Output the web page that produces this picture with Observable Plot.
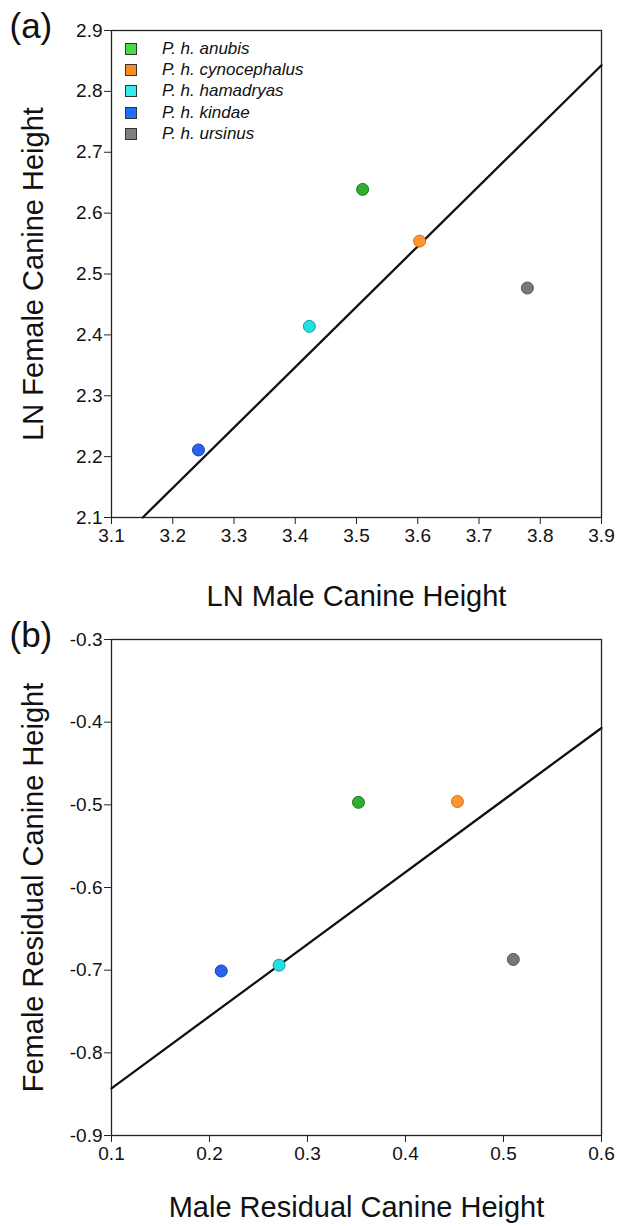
<!DOCTYPE html>
<html><head><meta charset="utf-8">
<script src="https://cdn.jsdelivr.net/npm/d3@7"></script>
<script src="https://cdn.jsdelivr.net/npm/@observablehq/plot@0.6"></script>
<style>
body{margin:0;background:#fff;font-family:"Liberation Sans",Arial,sans-serif;}
#wrap{position:relative;width:624px;height:1226px;overflow:hidden;}
#wrap svg{display:block;}
.legend{position:absolute;left:125px;top:38px;font-style:italic;font-size:17px;color:#111;}
.legend .row{display:flex;align-items:center;height:21.3px;}
.legend .sw{width:12px;height:12px;border:1px solid #333;margin-right:25px;box-sizing:border-box;}
</style></head><body><div id="wrap"></div>
<script>
const species = ["P. h. anubis","P. h. cynocephalus","P. h. hamadryas","P. h. kindae","P. h. ursinus"];
const legendColors = ["#44dd44","#ff8a1c","#33eeee","#1f6fff","#808080"];
const dotFills = ["#2fae2f","#ff9433","#22e0e0","#2a62f0","#777777"];
const dotStrokes = ["#1d7a1d","#d9700f","#14a0a0","#1a40b0","#555555"];

// Panel (a)
const lnMale = [3.510, 3.603, 3.423, 3.242, 3.779];
const lnFemale = [2.639, 2.554, 2.414, 2.211, 2.477];
const lnFitX = [3.151, 3.9];
const lnFitY = [2.1, 2.843];
const lnXTicks = [3.1, 3.2, 3.3, 3.4, 3.5, 3.6, 3.7, 3.8, 3.9];
const lnYTicks = [2.1, 2.2, 2.3, 2.4, 2.5, 2.6, 2.7, 2.8, 2.9];

// Panel (b)
const resMale = [0.352, 0.453, 0.271, 0.212, 0.510];
const resFemale = [-0.497, -0.496, -0.694, -0.701, -0.687];
const resFitX = [0.1, 0.6];
const resFitY = [-0.843, -0.407];
const resXTicks = [0.1, 0.2, 0.3, 0.4, 0.5, 0.6];
const resYTicks = [-0.9, -0.8, -0.7, -0.6, -0.5, -0.4, -0.3];

function panel(o) {
  const pts = species.map((s, i) => ({s, x: o.x[i], y: o.y[i], fill: dotFills[i], stroke: dotStrokes[i]}));
  const fit = o.fitX.map((x, i) => ({x, y: o.fitY[i]}));
  const fmt = d => d.toFixed(1);
  return Plot.plot({
    width: 624, height: o.height,
    marginLeft: 111, marginRight: 23, marginTop: o.marginTop, marginBottom: o.marginBottom,
    x: {domain: [o.xTicks[0], o.xTicks[o.xTicks.length - 1]]},
    y: {domain: [o.yTicks[0], o.yTicks[o.yTicks.length - 1]]},
    color: {type: "identity"},
    style: {fontFamily: "'Liberation Sans', Arial, sans-serif", fontSize: "19px", color: "#111", background: "#fff"},
    marks: [
      Plot.axisX({ticks: o.xTicks, tickFormat: fmt, tickSize: 7, tickPadding: 4, fontSize: 19, label: null, stroke: "#222"}),
      Plot.axisY({ticks: o.yTicks, tickFormat: fmt, tickSize: 7, tickPadding: 2, fontSize: 19, label: null, stroke: "#222"}),
      Plot.frame({stroke: "#222", strokeWidth: 1.3}),
      Plot.line(fit, {x: "x", y: "y", stroke: "#111", strokeWidth: 2.3}),
      Plot.dot(pts, {x: "x", y: "y", r: 6, fill: "fill", stroke: "stroke", strokeWidth: 1}),
      Plot.text([o.xLabel], {frameAnchor: "bottom", dy: o.xLabelDy, lineAnchor: "middle", fontSize: 29, fill: "#111"}),
      Plot.text([o.yLabel], {frameAnchor: "left", dx: -78, rotate: -90, lineAnchor: "middle", textAnchor: "middle", fontSize: 29, fill: "#111"}),
      Plot.text([o.tag], {frameAnchor: "top-left", dx: -102, dy: -4, textAnchor: "start", lineAnchor: "middle", fontSize: 35, fill: "#111"})
    ]
  });
}

const wrap = document.getElementById("wrap");
wrap.appendChild(panel({
  x: lnMale, y: lnFemale, fitX: lnFitX, fitY: lnFitY, xTicks: lnXTicks, yTicks: lnYTicks,
  xLabel: "LN Male Canine Height", yLabel: "LN Female Canine Height", tag: "(a)",
  height: 613, marginTop: 30, marginBottom: 96, xLabelDy: 79
}));
wrap.appendChild(panel({
  x: resMale, y: resFemale, fitX: resFitX, fitY: resFitY, xTicks: resXTicks, yTicks: resYTicks,
  xLabel: "Male Residual Canine Height", yLabel: "Female Residual Canine Height", tag: "(b)",
  height: 613, marginTop: 26, marginBottom: 91, xLabelDy: 72
}));

const legend = document.createElement("div");
legend.className = "legend";
species.forEach((s, i) => {
  const row = document.createElement("div");
  row.className = "row";
  const sw = document.createElement("span");
  sw.className = "sw";
  sw.style.background = legendColors[i];
  const t = document.createElement("span");
  t.textContent = s;
  row.appendChild(sw); row.appendChild(t);
  legend.appendChild(row);
});
wrap.appendChild(legend);
</script>
</body></html>
